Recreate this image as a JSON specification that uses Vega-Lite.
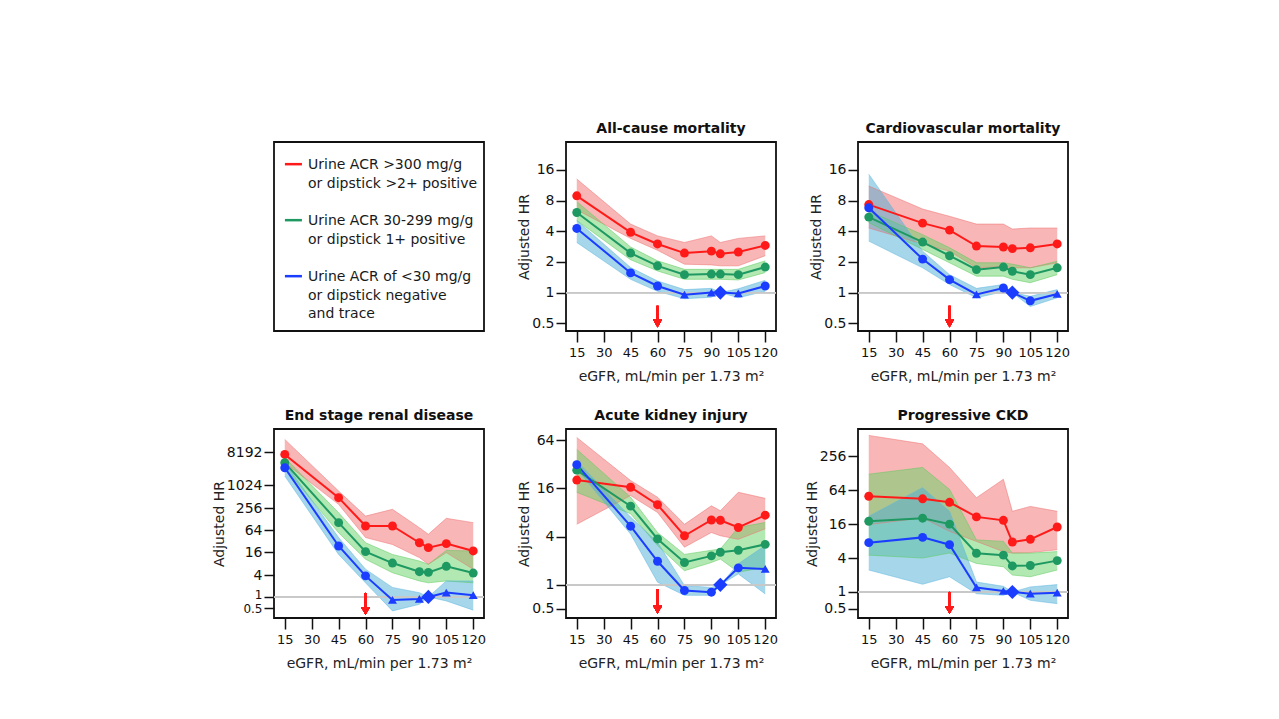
{
  "$schema": "https://vega.github.io/schema/vega-lite/v6.json",
  "background": "white",
  "padding": {"left": 211, "top": 121, "right": 10, "bottom": 10},
  "config": {
    "font": "DejaVu Sans",
    "view": {"stroke": "#111111", "strokeWidth": 1.8},
    "axis": {"grid": false, "domain": false, "tickColor": "#111111", "labelColor": "#111111", "titleColor": "#222222", "labelFontSize": 14, "titleFontSize": 14, "titleFontWeight": "normal", "tickSize": 10, "tickWidth": 1.5, "labelPadding": 2, "labelOverlap": false},
    "axisX": {"tickSize": 11, "labelPadding": 4, "titlePadding": 10, "labelFlush": false, "labelFontSize": 13},
    "axisY": {"titlePadding": 0},
    "title": {"fontSize": 14, "fontWeight": "bold", "offset": 6, "color": "#111111"}
  },
  "datasets": {
    "hr": [
      {"outcome": "acm", "acr": "ACR >300", "egfr": 15, "hr": 8.9, "lo": 6.5, "hi": 13, "marker": "sig"},
      {"outcome": "acm", "acr": "ACR >300", "egfr": 45, "hr": 3.9, "lo": 3.4, "hi": 4.7, "marker": "sig"},
      {"outcome": "acm", "acr": "ACR >300", "egfr": 60, "hr": 3.0, "lo": 2.6, "hi": 3.6, "marker": "sig"},
      {"outcome": "acm", "acr": "ACR >300", "egfr": 75, "hr": 2.44, "lo": 1.9, "hi": 3.1, "marker": "sig"},
      {"outcome": "acm", "acr": "ACR >300", "egfr": 90, "hr": 2.55, "lo": 1.87, "hi": 3.6, "marker": "sig"},
      {"outcome": "acm", "acr": "ACR >300", "egfr": 95, "hr": 2.4, "lo": 1.83, "hi": 3.1, "marker": "sig"},
      {"outcome": "acm", "acr": "ACR >300", "egfr": 105, "hr": 2.5, "lo": 1.83, "hi": 3.4, "marker": "sig"},
      {"outcome": "acm", "acr": "ACR >300", "egfr": 120, "hr": 2.9, "lo": 2.3, "hi": 3.6, "marker": "sig"},
      {"outcome": "acm", "acr": "ACR 30-299", "egfr": 15, "hr": 6.1, "lo": 5.1, "hi": 7.8, "marker": "sig"},
      {"outcome": "acm", "acr": "ACR 30-299", "egfr": 45, "hr": 2.44, "lo": 2.1, "hi": 2.8, "marker": "sig"},
      {"outcome": "acm", "acr": "ACR 30-299", "egfr": 60, "hr": 1.83, "lo": 1.63, "hi": 2.05, "marker": "sig"},
      {"outcome": "acm", "acr": "ACR 30-299", "egfr": 75, "hr": 1.5, "lo": 1.35, "hi": 1.69, "marker": "sig"},
      {"outcome": "acm", "acr": "ACR 30-299", "egfr": 90, "hr": 1.52, "lo": 1.35, "hi": 1.69, "marker": "sig"},
      {"outcome": "acm", "acr": "ACR 30-299", "egfr": 95, "hr": 1.52, "lo": 1.35, "hi": 1.69, "marker": "sig"},
      {"outcome": "acm", "acr": "ACR 30-299", "egfr": 105, "hr": 1.5, "lo": 1.33, "hi": 1.69, "marker": "sig"},
      {"outcome": "acm", "acr": "ACR 30-299", "egfr": 120, "hr": 1.78, "lo": 1.57, "hi": 2.05, "marker": "sig"},
      {"outcome": "acm", "acr": "ACR <30", "egfr": 15, "hr": 4.26, "lo": 3.1, "hi": 5.1, "marker": "sig"},
      {"outcome": "acm", "acr": "ACR <30", "egfr": 45, "hr": 1.56, "lo": 1.35, "hi": 1.76, "marker": "sig"},
      {"outcome": "acm", "acr": "ACR <30", "egfr": 60, "hr": 1.16, "lo": 1.03, "hi": 1.3, "marker": "sig"},
      {"outcome": "acm", "acr": "ACR <30", "egfr": 75, "hr": 0.955, "lo": 0.87, "hi": 1.07, "marker": "ns"},
      {"outcome": "acm", "acr": "ACR <30", "egfr": 90, "hr": 1.0, "lo": 0.9, "hi": 1.1, "marker": "ns"},
      {"outcome": "acm", "acr": "ACR <30", "egfr": 95, "hr": 1, "lo": 1, "hi": 1, "marker": "ref"},
      {"outcome": "acm", "acr": "ACR <30", "egfr": 105, "hr": 0.98, "lo": 0.89, "hi": 1.09, "marker": "ns"},
      {"outcome": "acm", "acr": "ACR <30", "egfr": 120, "hr": 1.16, "lo": 1.03, "hi": 1.32, "marker": "sig"},

      {"outcome": "cvm", "acr": "ACR >300", "egfr": 15, "hr": 7.3, "lo": 4.3, "hi": 11.1, "marker": "sig"},
      {"outcome": "cvm", "acr": "ACR >300", "egfr": 45, "hr": 4.8, "lo": 3.0, "hi": 6.6, "marker": "sig"},
      {"outcome": "cvm", "acr": "ACR >300", "egfr": 60, "hr": 4.1, "lo": 2.55, "hi": 5.6, "marker": "sig"},
      {"outcome": "cvm", "acr": "ACR >300", "egfr": 75, "hr": 2.86, "lo": 1.75, "hi": 4.7, "marker": "sig"},
      {"outcome": "cvm", "acr": "ACR >300", "egfr": 90, "hr": 2.8, "lo": 1.8, "hi": 4.7, "marker": "sig"},
      {"outcome": "cvm", "acr": "ACR >300", "egfr": 95, "hr": 2.7, "lo": 1.75, "hi": 4.2, "marker": "sig"},
      {"outcome": "cvm", "acr": "ACR >300", "egfr": 105, "hr": 2.75, "lo": 1.75, "hi": 4.3, "marker": "sig"},
      {"outcome": "cvm", "acr": "ACR >300", "egfr": 120, "hr": 3.0, "lo": 1.96, "hi": 4.3, "marker": "sig"},
      {"outcome": "cvm", "acr": "ACR 30-299", "egfr": 15, "hr": 5.5, "lo": 4.85, "hi": 6.3, "marker": "sig"},
      {"outcome": "cvm", "acr": "ACR 30-299", "egfr": 45, "hr": 3.13, "lo": 2.65, "hi": 3.7, "marker": "sig"},
      {"outcome": "cvm", "acr": "ACR 30-299", "egfr": 60, "hr": 2.3, "lo": 1.96, "hi": 2.75, "marker": "sig"},
      {"outcome": "cvm", "acr": "ACR 30-299", "egfr": 75, "hr": 1.68, "lo": 1.45, "hi": 1.96, "marker": "sig"},
      {"outcome": "cvm", "acr": "ACR 30-299", "egfr": 90, "hr": 1.78, "lo": 1.45, "hi": 1.96, "marker": "sig"},
      {"outcome": "cvm", "acr": "ACR 30-299", "egfr": 95, "hr": 1.62, "lo": 1.35, "hi": 1.9, "marker": "sig"},
      {"outcome": "cvm", "acr": "ACR 30-299", "egfr": 105, "hr": 1.5, "lo": 1.25, "hi": 1.75, "marker": "sig"},
      {"outcome": "cvm", "acr": "ACR 30-299", "egfr": 120, "hr": 1.75, "lo": 1.5, "hi": 2.03, "marker": "sig"},
      {"outcome": "cvm", "acr": "ACR <30", "egfr": 15, "hr": 6.8, "lo": 3.2, "hi": 14.5, "marker": "sig"},
      {"outcome": "cvm", "acr": "ACR <30", "egfr": 45, "hr": 2.13, "lo": 1.75, "hi": 2.55, "marker": "sig"},
      {"outcome": "cvm", "acr": "ACR <30", "egfr": 60, "hr": 1.34, "lo": 1.2, "hi": 1.5, "marker": "sig"},
      {"outcome": "cvm", "acr": "ACR <30", "egfr": 75, "hr": 0.96, "lo": 0.89, "hi": 1.1, "marker": "ns"},
      {"outcome": "cvm", "acr": "ACR <30", "egfr": 90, "hr": 1.11, "lo": 1.02, "hi": 1.2, "marker": "sig"},
      {"outcome": "cvm", "acr": "ACR <30", "egfr": 95, "hr": 1, "lo": 1, "hi": 1, "marker": "ref"},
      {"outcome": "cvm", "acr": "ACR <30", "egfr": 105, "hr": 0.83, "lo": 0.73, "hi": 0.92, "marker": "sig"},
      {"outcome": "cvm", "acr": "ACR <30", "egfr": 120, "hr": 0.97, "lo": 0.89, "hi": 1.07, "marker": "ns"},

      {"outcome": "esrd", "acr": "ACR >300", "egfr": 15, "hr": 7000, "lo": 4200, "hi": 17800, "marker": "sig"},
      {"outcome": "esrd", "acr": "ACR >300", "egfr": 45, "hr": 477, "lo": 315, "hi": 720, "marker": "sig"},
      {"outcome": "esrd", "acr": "ACR >300", "egfr": 60, "hr": 82, "lo": 40, "hi": 152, "marker": "sig"},
      {"outcome": "esrd", "acr": "ACR >300", "egfr": 75, "hr": 82, "lo": 26, "hi": 231, "marker": "sig"},
      {"outcome": "esrd", "acr": "ACR >300", "egfr": 90, "hr": 29, "lo": 11.5, "hi": 74, "marker": "sig"},
      {"outcome": "esrd", "acr": "ACR >300", "egfr": 95, "hr": 21.4, "lo": 7.6, "hi": 49, "marker": "sig"},
      {"outcome": "esrd", "acr": "ACR >300", "egfr": 105, "hr": 27.4, "lo": 15.7, "hi": 132, "marker": "sig"},
      {"outcome": "esrd", "acr": "ACR >300", "egfr": 120, "hr": 17.4, "lo": 5.6, "hi": 101, "marker": "sig"},
      {"outcome": "esrd", "acr": "ACR 30-299", "egfr": 15, "hr": 4200, "lo": 3060, "hi": 5700, "marker": "sig"},
      {"outcome": "esrd", "acr": "ACR 30-299", "egfr": 45, "hr": 101, "lo": 54, "hi": 187, "marker": "sig"},
      {"outcome": "esrd", "acr": "ACR 30-299", "egfr": 60, "hr": 16.7, "lo": 10.4, "hi": 29, "marker": "sig"},
      {"outcome": "esrd", "acr": "ACR 30-299", "egfr": 75, "hr": 8.2, "lo": 4.5, "hi": 14, "marker": "sig"},
      {"outcome": "esrd", "acr": "ACR 30-299", "egfr": 90, "hr": 4.8, "lo": 2.7, "hi": 9.3, "marker": "sig"},
      {"outcome": "esrd", "acr": "ACR 30-299", "egfr": 95, "hr": 4.6, "lo": 2.4, "hi": 7.6, "marker": "sig"},
      {"outcome": "esrd", "acr": "ACR 30-299", "egfr": 105, "hr": 6.7, "lo": 2.7, "hi": 18, "marker": "sig"},
      {"outcome": "esrd", "acr": "ACR 30-299", "egfr": 120, "hr": 4.4, "lo": 2.4, "hi": 17.4, "marker": "sig"},
      {"outcome": "esrd", "acr": "ACR <30", "egfr": 15, "hr": 3060, "lo": 1830, "hi": 4200, "marker": "sig"},
      {"outcome": "esrd", "acr": "ACR <30", "egfr": 45, "hr": 23.7, "lo": 14, "hi": 40, "marker": "sig"},
      {"outcome": "esrd", "acr": "ACR <30", "egfr": 60, "hr": 3.7, "lo": 2.4, "hi": 5.6, "marker": "sig"},
      {"outcome": "esrd", "acr": "ACR <30", "egfr": 75, "hr": 0.83, "lo": 0.42, "hi": 1.8, "marker": "ns"},
      {"outcome": "esrd", "acr": "ACR <30", "egfr": 90, "hr": 0.88, "lo": 0.63, "hi": 1.3, "marker": "ns"},
      {"outcome": "esrd", "acr": "ACR <30", "egfr": 95, "hr": 1, "lo": 1, "hi": 1, "marker": "ref"},
      {"outcome": "esrd", "acr": "ACR <30", "egfr": 105, "hr": 1.31, "lo": 0.78, "hi": 2.7, "marker": "ns"},
      {"outcome": "esrd", "acr": "ACR <30", "egfr": 120, "hr": 1.11, "lo": 0.44, "hi": 2.7, "marker": "ns"},

      {"outcome": "aki", "acr": "ACR >300", "egfr": 15, "hr": 20.3, "lo": 5.7, "hi": 69, "marker": "sig"},
      {"outcome": "aki", "acr": "ACR >300", "egfr": 45, "hr": 16.5, "lo": 13, "hi": 20, "marker": "sig"},
      {"outcome": "aki", "acr": "ACR >300", "egfr": 60, "hr": 10, "lo": 8, "hi": 12.4, "marker": "sig"},
      {"outcome": "aki", "acr": "ACR >300", "egfr": 75, "hr": 4.1, "lo": 2.95, "hi": 5.7, "marker": "sig"},
      {"outcome": "aki", "acr": "ACR >300", "egfr": 90, "hr": 6.45, "lo": 4.5, "hi": 9.7, "marker": "sig"},
      {"outcome": "aki", "acr": "ACR >300", "egfr": 95, "hr": 6.4, "lo": 4.1, "hi": 8.4, "marker": "sig"},
      {"outcome": "aki", "acr": "ACR >300", "egfr": 105, "hr": 5.2, "lo": 3.7, "hi": 14.3, "marker": "sig"},
      {"outcome": "aki", "acr": "ACR >300", "egfr": 120, "hr": 7.4, "lo": 5.0, "hi": 12, "marker": "sig"},
      {"outcome": "aki", "acr": "ACR 30-299", "egfr": 15, "hr": 27, "lo": 14.3, "hi": 49, "marker": "sig"},
      {"outcome": "aki", "acr": "ACR 30-299", "egfr": 45, "hr": 9.6, "lo": 7.7, "hi": 12.4, "marker": "sig"},
      {"outcome": "aki", "acr": "ACR 30-299", "egfr": 60, "hr": 3.74, "lo": 3.1, "hi": 4.5, "marker": "sig"},
      {"outcome": "aki", "acr": "ACR 30-299", "egfr": 75, "hr": 1.9, "lo": 1.5, "hi": 2.4, "marker": "sig"},
      {"outcome": "aki", "acr": "ACR 30-299", "egfr": 90, "hr": 2.3, "lo": 1.9, "hi": 2.7, "marker": "sig"},
      {"outcome": "aki", "acr": "ACR 30-299", "egfr": 95, "hr": 2.55, "lo": 2.1, "hi": 2.8, "marker": "sig"},
      {"outcome": "aki", "acr": "ACR 30-299", "egfr": 105, "hr": 2.7, "lo": 1.44, "hi": 5.2, "marker": "sig"},
      {"outcome": "aki", "acr": "ACR 30-299", "egfr": 120, "hr": 3.2, "lo": 1.66, "hi": 6.0, "marker": "sig"},
      {"outcome": "aki", "acr": "ACR <30", "egfr": 15, "hr": 31.6, "lo": 28, "hi": 35, "marker": "sig"},
      {"outcome": "aki", "acr": "ACR <30", "egfr": 45, "hr": 5.4, "lo": 4.3, "hi": 7, "marker": "sig"},
      {"outcome": "aki", "acr": "ACR <30", "egfr": 60, "hr": 1.97, "lo": 1.08, "hi": 3.4, "marker": "sig"},
      {"outcome": "aki", "acr": "ACR <30", "egfr": 75, "hr": 0.85, "lo": 0.74, "hi": 0.98, "marker": "sig"},
      {"outcome": "aki", "acr": "ACR <30", "egfr": 90, "hr": 0.81, "lo": 0.74, "hi": 0.93, "marker": "sig"},
      {"outcome": "aki", "acr": "ACR <30", "egfr": 95, "hr": 1, "lo": 1, "hi": 1, "marker": "ref"},
      {"outcome": "aki", "acr": "ACR <30", "egfr": 105, "hr": 1.63, "lo": 1.37, "hi": 1.83, "marker": "sig"},
      {"outcome": "aki", "acr": "ACR <30", "egfr": 120, "hr": 1.58, "lo": 0.77, "hi": 3.1, "marker": "ns"},

      {"outcome": "ckd", "acr": "ACR >300", "egfr": 15, "hr": 50, "lo": 15.7, "hi": 600, "marker": "sig"},
      {"outcome": "ckd", "acr": "ACR >300", "egfr": 45, "hr": 45, "lo": 20.6, "hi": 425, "marker": "sig"},
      {"outcome": "ckd", "acr": "ACR >300", "egfr": 60, "hr": 39, "lo": 11.9, "hi": 162, "marker": "sig"},
      {"outcome": "ckd", "acr": "ACR >300", "egfr": 75, "hr": 21.5, "lo": 7.9, "hi": 47, "marker": "sig"},
      {"outcome": "ckd", "acr": "ACR >300", "egfr": 90, "hr": 18.7, "lo": 5.2, "hi": 100, "marker": "sig"},
      {"outcome": "ckd", "acr": "ACR >300", "egfr": 95, "hr": 7.7, "lo": 4.9, "hi": 27, "marker": "sig"},
      {"outcome": "ckd", "acr": "ACR >300", "egfr": 105, "hr": 8.6, "lo": 5, "hi": 33, "marker": "sig"},
      {"outcome": "ckd", "acr": "ACR >300", "egfr": 120, "hr": 14.2, "lo": 5.6, "hi": 27, "marker": "sig"},
      {"outcome": "ckd", "acr": "ACR 30-299", "egfr": 15, "hr": 18, "lo": 4.5, "hi": 123, "marker": "sig"},
      {"outcome": "ckd", "acr": "ACR 30-299", "egfr": 45, "hr": 20.4, "lo": 4.0, "hi": 162, "marker": "sig"},
      {"outcome": "ckd", "acr": "ACR 30-299", "egfr": 60, "hr": 16, "lo": 4.9, "hi": 66, "marker": "sig"},
      {"outcome": "ckd", "acr": "ACR 30-299", "egfr": 75, "hr": 4.86, "lo": 3.2, "hi": 8.4, "marker": "sig"},
      {"outcome": "ckd", "acr": "ACR 30-299", "egfr": 90, "hr": 4.5, "lo": 2.8, "hi": 7.9, "marker": "sig"},
      {"outcome": "ckd", "acr": "ACR 30-299", "egfr": 95, "hr": 2.9, "lo": 2.0, "hi": 4.9, "marker": "sig"},
      {"outcome": "ckd", "acr": "ACR 30-299", "egfr": 105, "hr": 2.95, "lo": 1.86, "hi": 4.9, "marker": "sig"},
      {"outcome": "ckd", "acr": "ACR 30-299", "egfr": 120, "hr": 3.6, "lo": 2.45, "hi": 5.2, "marker": "sig"},
      {"outcome": "ckd", "acr": "ACR <30", "egfr": 15, "hr": 7.5, "lo": 2.45, "hi": 22, "marker": "sig"},
      {"outcome": "ckd", "acr": "ACR <30", "egfr": 45, "hr": 9.3, "lo": 1.37, "hi": 71, "marker": "sig"},
      {"outcome": "ckd", "acr": "ACR <30", "egfr": 60, "hr": 6.9, "lo": 1.86, "hi": 27, "marker": "sig"},
      {"outcome": "ckd", "acr": "ACR <30", "egfr": 75, "hr": 1.2, "lo": 0.93, "hi": 1.5, "marker": "ns"},
      {"outcome": "ckd", "acr": "ACR <30", "egfr": 90, "hr": 1.04, "lo": 0.87, "hi": 1.26, "marker": "ns"},
      {"outcome": "ckd", "acr": "ACR <30", "egfr": 95, "hr": 1, "lo": 1, "hi": 1, "marker": "ref"},
      {"outcome": "ckd", "acr": "ACR <30", "egfr": 105, "hr": 0.93, "lo": 0.71, "hi": 1.23, "marker": "ns"},
      {"outcome": "ckd", "acr": "ACR <30", "egfr": 120, "hr": 0.97, "lo": 0.62, "hi": 1.35, "marker": "ns"}
    ],
    "legend": [
      {"acr": "ACR >300", "label": "Urine ACR >300 mg/g\nor dipstick >2+ positive"},
      {"acr": "ACR 30-299", "label": "Urine ACR 30-299 mg/g\nor dipstick 1+ positive"},
      {"acr": "ACR <30", "label": "Urine ACR of <30 mg/g\nor dipstick negative\nand trace"}
    ]
  },
  "columns": 3,
  "bounds": "flush",
  "spacing": {"column": 82, "row": 98},
  "resolve": {"scale": {"x": "independent", "y": "independent"}},
  "concat": [
    {
      "width": 210, "height": 189,
      "data": {"name": "legend"},
      "layer": [
        {
          "mark": {"type": "rule", "strokeWidth": 2.5, "yOffset": 6},
          "encoding": {
            "x": {"datum": 5.2, "scale": {"domain": [0, 100], "nice": false, "zero": false}, "axis": null},
            "x2": {"datum": 13.3},
            "y": {"field": "acr", "type": "nominal", "sort": ["ACR >300", "ACR 30-299", "ACR <30"], "scale": {"type": "point", "padding": 0.6875, "align": 0.21}, "axis": null},
            "color": {"field": "acr", "type": "nominal", "scale": {"domain": ["ACR >300", "ACR 30-299", "ACR <30"], "range": ["#ff1a1a", "#1e9962", "#1a3dff"]}, "legend": null}
          }
        },
        {
          "mark": {"type": "text", "align": "left", "baseline": "top", "fontSize": 14, "lineBreak": "\n", "lineHeight": 18.5, "color": "#1a1a1a"},
          "encoding": {
            "x": {"datum": 16.2},
            "y": {"field": "acr", "type": "nominal", "sort": ["ACR >300", "ACR 30-299", "ACR <30"]},
            "text": {"field": "label"}
          }
        }
      ]
    },
    {
      "title": "All-cause mortality",
      "width": 210, "height": 189,
      "data": {"name": "hr"},
      "transform": [{"filter": "datum.outcome === 'acm'"}],
      "encoding": {
        "x": {"field": "egfr", "type": "quantitative", "scale": {"domain": [9, 126], "nice": false, "zero": false}, "axis": {"values": [15, 30, 45, 60, 75, 90, 105, 120], "title": "eGFR, mL/min per 1.73 m²"}},
        "y": {"field": "hr", "type": "quantitative", "scale": {"type": "log", "base": 2, "domain": [0.42, 30], "nice": false}, "axis": {"values": [0.5, 1, 2, 4, 8, 16], "format": "~g", "title": "Adjusted HR"}}
      },
      "layer": [
        {"mark": {"type": "area", "opacity": 0.5}, "encoding": {"y": {"field": "lo"}, "y2": {"field": "hi"}, "fill": {"field": "acr", "type": "nominal", "scale": {"domain": ["ACR >300", "ACR 30-299", "ACR <30"], "range": ["#f26d6d", "#66d466", "#4caed6"]}, "legend": null}}},
        {"mark": {"type": "line", "strokeWidth": 1, "opacity": 0.5}, "encoding": {"y": {"field": "lo"}, "stroke": {"field": "acr", "type": "nominal", "scale": {"domain": ["ACR >300", "ACR 30-299", "ACR <30"], "range": ["#f07070", "#5cc95c", "#5fb8e0"]}, "legend": null}}},
        {"mark": {"type": "line", "strokeWidth": 1, "opacity": 0.5}, "encoding": {"y": {"field": "hi"}, "stroke": {"field": "acr", "type": "nominal", "legend": null}}},
        {"mark": {"type": "rule", "color": "#c8c8c8", "strokeWidth": 1}, "encoding": {"x": null, "y": {"datum": 1}}},
        {"mark": {"type": "line", "strokeWidth": 2}, "encoding": {"color": {"field": "acr", "type": "nominal", "scale": {"domain": ["ACR >300", "ACR 30-299", "ACR <30"], "range": ["#ff1a1a", "#1e9962", "#1a3dff"]}, "legend": null}}},
        {"transform": [{"filter": "datum.marker !== 'ref'"}], "mark": {"type": "point", "filled": true, "opacity": 1, "size": 80}, "encoding": {"color": {"field": "acr", "type": "nominal", "legend": null}, "shape": {"field": "marker", "type": "nominal", "scale": {"domain": ["sig", "ns"], "range": ["circle", "triangle-up"]}, "legend": null}}},
        {"transform": [{"filter": "datum.marker === 'ref'"}], "mark": {"type": "point", "filled": true, "opacity": 1, "size": 200, "shape": "diamond", "color": "#1a3dff"}},
        {"mark": {"type": "rule", "color": "#ff1a1a", "strokeWidth": 2}, "encoding": {"x": {"datum": 60}, "y": {"datum": 0.74}, "y2": {"datum": 0.52}}},
        {"mark": {"type": "point", "filled": true, "opacity": 1, "shape": "triangle-down", "size": 80, "color": "#ff1a1a"}, "encoding": {"x": {"datum": 60}, "y": {"datum": 0.5}}}
      ]
    },
    {
      "title": "Cardiovascular mortality",
      "width": 210, "height": 189,
      "data": {"name": "hr"},
      "transform": [{"filter": "datum.outcome === 'cvm'"}],
      "encoding": {
        "x": {"field": "egfr", "type": "quantitative", "scale": {"domain": [9, 126], "nice": false, "zero": false}, "axis": {"values": [15, 30, 45, 60, 75, 90, 105, 120], "title": "eGFR, mL/min per 1.73 m²"}},
        "y": {"field": "hr", "type": "quantitative", "scale": {"type": "log", "base": 2, "domain": [0.42, 30], "nice": false}, "axis": {"values": [0.5, 1, 2, 4, 8, 16], "format": "~g", "title": "Adjusted HR"}}
      },
      "layer": [
        {"mark": {"type": "area", "opacity": 0.5}, "encoding": {"y": {"field": "lo"}, "y2": {"field": "hi"}, "fill": {"field": "acr", "type": "nominal", "scale": {"domain": ["ACR >300", "ACR 30-299", "ACR <30"], "range": ["#f26d6d", "#66d466", "#4caed6"]}, "legend": null}}},
        {"mark": {"type": "line", "strokeWidth": 1, "opacity": 0.5}, "encoding": {"y": {"field": "lo"}, "stroke": {"field": "acr", "type": "nominal", "scale": {"domain": ["ACR >300", "ACR 30-299", "ACR <30"], "range": ["#f07070", "#5cc95c", "#5fb8e0"]}, "legend": null}}},
        {"mark": {"type": "line", "strokeWidth": 1, "opacity": 0.5}, "encoding": {"y": {"field": "hi"}, "stroke": {"field": "acr", "type": "nominal", "legend": null}}},
        {"mark": {"type": "rule", "color": "#c8c8c8", "strokeWidth": 1}, "encoding": {"x": null, "y": {"datum": 1}}},
        {"mark": {"type": "line", "strokeWidth": 2}, "encoding": {"color": {"field": "acr", "type": "nominal", "scale": {"domain": ["ACR >300", "ACR 30-299", "ACR <30"], "range": ["#ff1a1a", "#1e9962", "#1a3dff"]}, "legend": null}}},
        {"transform": [{"filter": "datum.marker !== 'ref'"}], "mark": {"type": "point", "filled": true, "opacity": 1, "size": 80}, "encoding": {"color": {"field": "acr", "type": "nominal", "legend": null}, "shape": {"field": "marker", "type": "nominal", "scale": {"domain": ["sig", "ns"], "range": ["circle", "triangle-up"]}, "legend": null}}},
        {"transform": [{"filter": "datum.marker === 'ref'"}], "mark": {"type": "point", "filled": true, "opacity": 1, "size": 200, "shape": "diamond", "color": "#1a3dff"}},
        {"mark": {"type": "rule", "color": "#ff1a1a", "strokeWidth": 2}, "encoding": {"x": {"datum": 60}, "y": {"datum": 0.74}, "y2": {"datum": 0.52}}},
        {"mark": {"type": "point", "filled": true, "opacity": 1, "shape": "triangle-down", "size": 80, "color": "#ff1a1a"}, "encoding": {"x": {"datum": 60}, "y": {"datum": 0.5}}}
      ]
    },
    {
      "title": "End stage renal disease",
      "width": 210, "height": 189,
      "data": {"name": "hr"},
      "transform": [{"filter": "datum.outcome === 'esrd'"}],
      "encoding": {
        "x": {"field": "egfr", "type": "quantitative", "scale": {"domain": [9, 126], "nice": false, "zero": false}, "axis": {"values": [15, 30, 45, 60, 75, 90, 105, 120], "title": "eGFR, mL/min per 1.73 m²"}},
        "y": {"field": "hr", "type": "quantitative", "scale": {"type": "log", "base": 2, "domain": [0.27, 34000], "nice": false}, "axis": {"values": [0.5, 1, 4, 16, 64, 256, 1024, 8192], "format": "~g", "title": "Adjusted HR", "labelFontSize": {"condition": {"test": "datum.value <= 1", "value": 12}, "value": 14}, "labelOffset": {"condition": {"test": "datum.value === 1", "value": -2}, "value": 0.5}}}
      },
      "layer": [
        {"mark": {"type": "area", "opacity": 0.5}, "encoding": {"y": {"field": "lo"}, "y2": {"field": "hi"}, "fill": {"field": "acr", "type": "nominal", "scale": {"domain": ["ACR >300", "ACR 30-299", "ACR <30"], "range": ["#f26d6d", "#66d466", "#4caed6"]}, "legend": null}}},
        {"mark": {"type": "line", "strokeWidth": 1, "opacity": 0.5}, "encoding": {"y": {"field": "lo"}, "stroke": {"field": "acr", "type": "nominal", "scale": {"domain": ["ACR >300", "ACR 30-299", "ACR <30"], "range": ["#f07070", "#5cc95c", "#5fb8e0"]}, "legend": null}}},
        {"mark": {"type": "line", "strokeWidth": 1, "opacity": 0.5}, "encoding": {"y": {"field": "hi"}, "stroke": {"field": "acr", "type": "nominal", "legend": null}}},
        {"mark": {"type": "rule", "color": "#c8c8c8", "strokeWidth": 1}, "encoding": {"x": null, "y": {"datum": 1}}},
        {"mark": {"type": "line", "strokeWidth": 2}, "encoding": {"color": {"field": "acr", "type": "nominal", "scale": {"domain": ["ACR >300", "ACR 30-299", "ACR <30"], "range": ["#ff1a1a", "#1e9962", "#1a3dff"]}, "legend": null}}},
        {"transform": [{"filter": "datum.marker !== 'ref'"}], "mark": {"type": "point", "filled": true, "opacity": 1, "size": 80}, "encoding": {"color": {"field": "acr", "type": "nominal", "legend": null}, "shape": {"field": "marker", "type": "nominal", "scale": {"domain": ["sig", "ns"], "range": ["circle", "triangle-up"]}, "legend": null}}},
        {"transform": [{"filter": "datum.marker === 'ref'"}], "mark": {"type": "point", "filled": true, "opacity": 1, "size": 200, "shape": "diamond", "color": "#1a3dff"}},
        {"mark": {"type": "rule", "color": "#ff1a1a", "strokeWidth": 2}, "encoding": {"x": {"datum": 60}, "y": {"datum": 1.28}, "y2": {"datum": 0.45}}},
        {"mark": {"type": "point", "filled": true, "opacity": 1, "shape": "triangle-down", "size": 80, "color": "#ff1a1a"}, "encoding": {"x": {"datum": 60}, "y": {"datum": 0.42}}}
      ]
    },
    {
      "title": "Acute kidney injury",
      "width": 210, "height": 189,
      "data": {"name": "hr"},
      "transform": [{"filter": "datum.outcome === 'aki'"}],
      "encoding": {
        "x": {"field": "egfr", "type": "quantitative", "scale": {"domain": [9, 126], "nice": false, "zero": false}, "axis": {"values": [15, 30, 45, 60, 75, 90, 105, 120], "title": "eGFR, mL/min per 1.73 m²"}},
        "y": {"field": "hr", "type": "quantitative", "scale": {"type": "log", "base": 2, "domain": [0.386, 88], "nice": false}, "axis": {"values": [0.5, 1, 4, 16, 64], "format": "~g", "title": "Adjusted HR"}}
      },
      "layer": [
        {"mark": {"type": "area", "opacity": 0.5}, "encoding": {"y": {"field": "lo"}, "y2": {"field": "hi"}, "fill": {"field": "acr", "type": "nominal", "scale": {"domain": ["ACR >300", "ACR 30-299", "ACR <30"], "range": ["#f26d6d", "#66d466", "#4caed6"]}, "legend": null}}},
        {"mark": {"type": "line", "strokeWidth": 1, "opacity": 0.5}, "encoding": {"y": {"field": "lo"}, "stroke": {"field": "acr", "type": "nominal", "scale": {"domain": ["ACR >300", "ACR 30-299", "ACR <30"], "range": ["#f07070", "#5cc95c", "#5fb8e0"]}, "legend": null}}},
        {"mark": {"type": "line", "strokeWidth": 1, "opacity": 0.5}, "encoding": {"y": {"field": "hi"}, "stroke": {"field": "acr", "type": "nominal", "legend": null}}},
        {"mark": {"type": "rule", "color": "#c8c8c8", "strokeWidth": 1}, "encoding": {"x": null, "y": {"datum": 1}}},
        {"mark": {"type": "line", "strokeWidth": 2}, "encoding": {"color": {"field": "acr", "type": "nominal", "scale": {"domain": ["ACR >300", "ACR 30-299", "ACR <30"], "range": ["#ff1a1a", "#1e9962", "#1a3dff"]}, "legend": null}}},
        {"transform": [{"filter": "datum.marker !== 'ref'"}], "mark": {"type": "point", "filled": true, "opacity": 1, "size": 80}, "encoding": {"color": {"field": "acr", "type": "nominal", "legend": null}, "shape": {"field": "marker", "type": "nominal", "scale": {"domain": ["sig", "ns"], "range": ["circle", "triangle-up"]}, "legend": null}}},
        {"transform": [{"filter": "datum.marker === 'ref'"}], "mark": {"type": "point", "filled": true, "opacity": 1, "size": 200, "shape": "diamond", "color": "#1a3dff"}},
        {"mark": {"type": "rule", "color": "#ff1a1a", "strokeWidth": 2}, "encoding": {"x": {"datum": 60}, "y": {"datum": 0.87}, "y2": {"datum": 0.51}}},
        {"mark": {"type": "point", "filled": true, "opacity": 1, "shape": "triangle-down", "size": 80, "color": "#ff1a1a"}, "encoding": {"x": {"datum": 60}, "y": {"datum": 0.49}}}
      ]
    },
    {
      "title": "Progressive CKD",
      "width": 210, "height": 189,
      "data": {"name": "hr"},
      "transform": [{"filter": "datum.outcome === 'ckd'"}],
      "encoding": {
        "x": {"field": "egfr", "type": "quantitative", "scale": {"domain": [9, 126], "nice": false, "zero": false}, "axis": {"values": [15, 30, 45, 60, 75, 90, 105, 120], "title": "eGFR, mL/min per 1.73 m²"}},
        "y": {"field": "hr", "type": "quantitative", "scale": {"type": "log", "base": 2, "domain": [0.345, 780], "nice": false}, "axis": {"values": [0.5, 1, 4, 16, 64, 256], "format": "~g", "title": "Adjusted HR"}}
      },
      "layer": [
        {"mark": {"type": "area", "opacity": 0.5}, "encoding": {"y": {"field": "lo"}, "y2": {"field": "hi"}, "fill": {"field": "acr", "type": "nominal", "scale": {"domain": ["ACR >300", "ACR 30-299", "ACR <30"], "range": ["#f26d6d", "#66d466", "#4caed6"]}, "legend": null}}},
        {"mark": {"type": "line", "strokeWidth": 1, "opacity": 0.5}, "encoding": {"y": {"field": "lo"}, "stroke": {"field": "acr", "type": "nominal", "scale": {"domain": ["ACR >300", "ACR 30-299", "ACR <30"], "range": ["#f07070", "#5cc95c", "#5fb8e0"]}, "legend": null}}},
        {"mark": {"type": "line", "strokeWidth": 1, "opacity": 0.5}, "encoding": {"y": {"field": "hi"}, "stroke": {"field": "acr", "type": "nominal", "legend": null}}},
        {"mark": {"type": "rule", "color": "#c8c8c8", "strokeWidth": 1}, "encoding": {"x": null, "y": {"datum": 1}}},
        {"mark": {"type": "line", "strokeWidth": 2}, "encoding": {"color": {"field": "acr", "type": "nominal", "scale": {"domain": ["ACR >300", "ACR 30-299", "ACR <30"], "range": ["#ff1a1a", "#1e9962", "#1a3dff"]}, "legend": null}}},
        {"transform": [{"filter": "datum.marker !== 'ref'"}], "mark": {"type": "point", "filled": true, "opacity": 1, "size": 80}, "encoding": {"color": {"field": "acr", "type": "nominal", "legend": null}, "shape": {"field": "marker", "type": "nominal", "scale": {"domain": ["sig", "ns"], "range": ["circle", "triangle-up"]}, "legend": null}}},
        {"transform": [{"filter": "datum.marker === 'ref'"}], "mark": {"type": "point", "filled": true, "opacity": 1, "size": 200, "shape": "diamond", "color": "#1a3dff"}},
        {"mark": {"type": "rule", "color": "#ff1a1a", "strokeWidth": 2}, "encoding": {"x": {"datum": 60}, "y": {"datum": 1.0}, "y2": {"datum": 0.5}}},
        {"mark": {"type": "point", "filled": true, "opacity": 1, "shape": "triangle-down", "size": 80, "color": "#ff1a1a"}, "encoding": {"x": {"datum": 60}, "y": {"datum": 0.48}}}
      ]
    }
  ]
}
